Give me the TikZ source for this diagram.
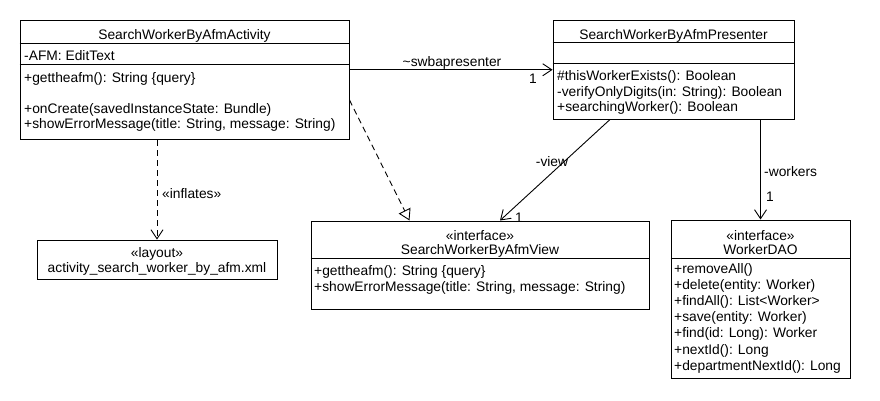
\documentclass[tikz,border=0pt]{standalone}
\usepackage{fontspec}
\setmainfont{Liberation Sans}
\usetikzlibrary{arrows.meta,calc}

\tikzset{
  classbox/.style={draw,line width=1pt,inner sep=0pt},
  member/.style={anchor=base west,inner sep=0pt},
  heading/.style={anchor=base,inner sep=0pt},
  assoc/.style={line width=0.9pt,-{Straight Barb[length=9pt,width=12pt]}},
  depend/.style={assoc,dash pattern=on 6pt off 4pt},
  realize/.style={line width=0.9pt,dash pattern=on 6pt off 4pt,-{Triangle[open,length=11pt,width=13pt]}},
}

\begin{document}
\begin{tikzpicture}[x=1pt,y=-1pt,font=\fontsize{13.8}{16}\selectfont]
    \useasboundingbox[fill=white] (0,0) rectangle (880,400);

    % class boxes
    \node[classbox,minimum width=329pt,minimum height=119pt] (act) at (184.5,80) {};
    \node[classbox,minimum width=241pt,minimum height=98.5pt] (pres) at (673.5,69.75) {};
    \node[classbox,minimum width=240pt,minimum height=39pt] (lay) at (157,259.5) {};
    \node[classbox,minimum width=338pt,minimum height=88pt] (view) at (480,265) {};
    \node[classbox,minimum width=179pt,minimum height=158pt] (dao) at (760.5,299) {};

    % compartments
    \draw[line width=1pt] (act.north west) ++(0,23) -- ++(329,0);
    \draw[line width=1pt] (act.north west) ++(0,44) -- ++(329,0);
    \draw[line width=1pt] (pres.north west) ++(0,22.5) -- ++(241,0);
    \draw[line width=1pt] (pres.north west) ++(0,43.5) -- ++(241,0);
    \draw[line width=1pt] (view.north west) ++(0,38) -- ++(338,0);
    \draw[line width=1pt] (dao.north west) ++(0,39) -- ++(179,0);

    % SearchWorkerByAfmActivity
    \node[heading] (acttitle) at (184.5,39.5) {SearchWorkerByAfmActivity};
    \node[member] (actafm) at (24,60) {-AFM: EditText};
    \node[member] (actget) at (24,82) {+gettheafm(): String \{query\}};
    \node[member] (actcreate) at (24,113) {+onCreate(savedInstanceState: Bundle)};
    \node[member] (actshow) at (24,128.5) {+showErrorMessage(title: String, message: String)};

    % SearchWorkerByAfmPresenter
    \node[heading] (prestitle) at (673.5,39.5) {SearchWorkerByAfmPresenter};
    \foreach \m [count=\i from 0] in {\#thisWorkerExists(): Boolean,
        -verifyOnlyDigits(in: String): Boolean,
        +searchingWorker(): Boolean}{
        \node[member] (pres\i) at (557,80.5+15.5*\i) {\m};
    }

    % layout file
    \node[heading] (laystereo) at (157,257.5) {«layout»};
    \node[heading] (laytitle) at (157,272.5) {activity\_search\_worker\_by\_afm.xml};

    % SearchWorkerByAfmView
    \node[heading] (viewstereo) at (480,240) {«interface»};
    \node[heading] (viewtitle) at (480,254.5) {SearchWorkerByAfmView};
    \node[member] (view0) at (314,275.5) {+gettheafm(): String \{query\}};
    \node[member] (view1) at (314,291.5) {+showErrorMessage(title: String, message: String)};

    % WorkerDAO
    \node[heading] (daostereo) at (760.5,240) {«interface»};
    \node[heading] (daotitle) at (760.5,254.5) {WorkerDAO};
    \foreach \m [count=\i from 0] in {+removeAll(),
        +delete(entity: Worker),
        +findAll(): List<Worker>,
        +save(entity: Worker),
        +find(id: Long): Worker,
        +nextId(): Long,
        +departmentNextId(): Long}{
        \node[member] (dao\i) at (674,273.5+16.1*\i) {\m};
    }

    % relations
    \draw[assoc] (pres.west -| act.east) -- (pres.west);
    \node[heading] (swbalabel) at (452,66) {\textasciitilde swbapresenter};
    \node[heading] (swbamult) at (533,83) {1};

    \draw[depend] (lay.north |- act.south) -- (lay.north);
    \node[member] (inflabel) at (162,198) {«inflates»};

    \draw[realize] ($(act.east)+(0,20)$) -- ($(view.north west)+(99,0)$);

    \draw[assoc] ($(pres.south)+(-63.5,0)$) -- ($(view.north)+(20,0)$);
    \node[heading] (viewlabel) at (552,166) {-view};
    \node[heading] (viewmult) at (519,222) {1};

    \draw[assoc] (dao.north |- pres.south) -- (dao.north);
    \node[member] (worklabel) at (764,176) {-workers};
    \node[member] (workmult) at (766,201.5) {1};
\end{tikzpicture}
\end{document}
